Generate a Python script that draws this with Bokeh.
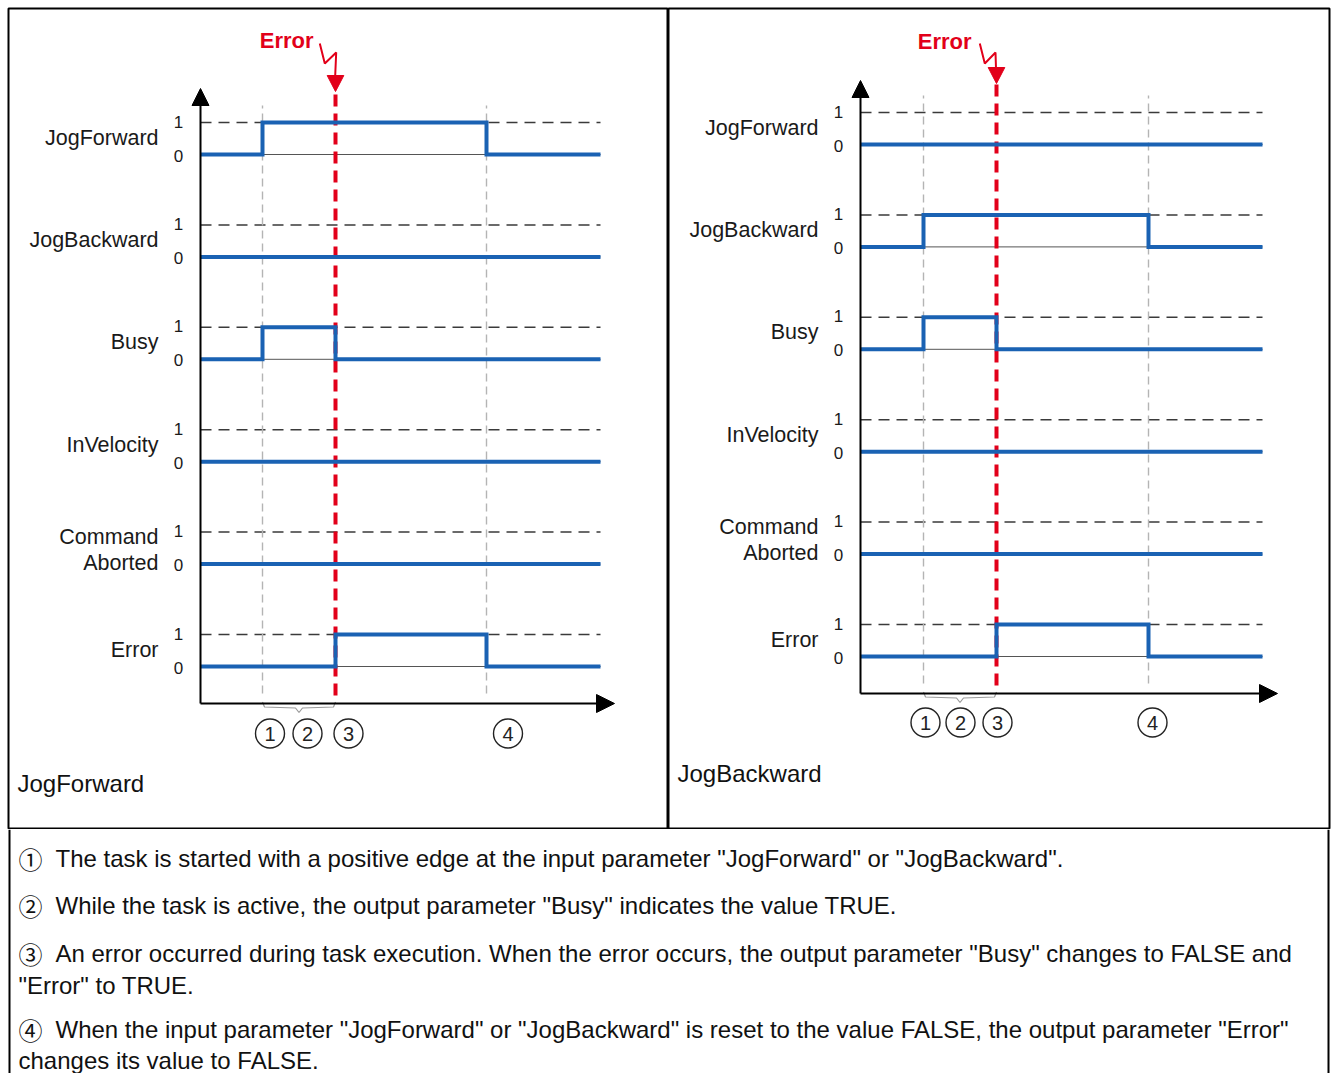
import numpy as np
from bokeh.plotting import figure
from bokeh.layouts import column, row
from bokeh.models import Range1d, Arrow, NormalHead
from bokeh.core.properties import value
from bokeh.embed import file_html
from bokeh.resources import INLINE

FONT = "Liberation Sans"
BLUE = "#1a62b3"
RED = "#e2001a"

# ---------------- data ----------------
signal_labels = [["JogForward"], ["JogBackward"], ["Busy"], ["InVelocity"],
                 ["Command", "Aborted"], ["Error"]]
level_ticks = ["1", "0"]
marker_labels = ["1", "2", "3", "4"]

# Left diagram: job started with JogForward (time in units of 10 px from the origin)
fwd_events = [6.2, 13.5, 28.6]          # (1) start, (3) error, (4) reset
fwd_end = 40.0
fwd_jogforward_t = [0, 6.2, 28.6, 40.0]
fwd_jogforward_v = [0, 1, 0, 0]
fwd_jogbackward_t = [0, 40.0]
fwd_jogbackward_v = [0, 0]
fwd_busy_t = [0, 6.2, 13.5, 40.0]
fwd_busy_v = [0, 1, 0, 0]
fwd_invelocity_t = [0, 40.0]
fwd_invelocity_v = [0, 0]
fwd_aborted_t = [0, 40.0]
fwd_aborted_v = [0, 0]
fwd_error_t = [0, 13.5, 28.6, 40.0]
fwd_error_v = [0, 1, 0, 0]

# Right diagram: job started with JogBackward
bwd_events = [6.3, 13.6, 28.8]
bwd_end = 40.2
bwd_jogforward_t = [0, 40.2]
bwd_jogforward_v = [0, 0]
bwd_jogbackward_t = [0, 6.3, 28.8, 40.2]
bwd_jogbackward_v = [0, 1, 0, 0]
bwd_busy_t = [0, 6.3, 13.6, 40.2]
bwd_busy_v = [0, 1, 0, 0]
bwd_invelocity_t = [0, 40.2]
bwd_invelocity_v = [0, 0]
bwd_aborted_t = [0, 40.2]
bwd_aborted_v = [0, 0]
bwd_error_t = [0, 13.6, 28.8, 40.2]
bwd_error_v = [0, 1, 0, 0]

note_markers = ["\u2460", "\u2461", "\u2462", "", "\u2463", ""]
notes = [
    "The task is started with a positive edge at the input parameter \"JogForward\" or \"JogBackward\".",
    "While the task is active, the output parameter \"Busy\" indicates the value TRUE.",
    "An error occurred during task execution. When the error occurs, the output parameter \"Busy\" changes to FALSE and",
    "\"Error\" to TRUE.",
    "When the input parameter \"JogForward\" or \"JogBackward\" is reset to the value FALSE, the output parameter \"Error\"",
    "changes its value to FALSE.",
]

# ---------------- layout constants ----------------
ERR_BASE = 37.0
PITCH = 102.4
AMP = 32.0
TOP_H = 829


def lane_bases():
    return [ERR_BASE + PITCH * (5 - k) for k in range(6)]


def build_panel(width, frame_w, border_left, border_right, y_bottom, y_top, series, events,
                t_end, caption, circ_x, circ_y, x_arrow, y_arrow, tip, bolt, err_x,
                err_label_y):
    p = figure(width=width, height=TOP_H,
               x_range=Range1d(-19.2, (frame_w - 192) / 10.0),
               y_range=Range1d(y_bottom, y_top),
               output_backend="svg", toolbar_location=None, min_border=0,
               min_border_left=border_left, min_border_right=border_right,
               min_border_top=8, min_border_bottom=0,
               x_axis_location=None, y_axis_location=None)
    p.grid.visible = False
    p.outline_line_color = "black"
    p.outline_line_width = 2
    p.background_fill_color = "white"
    p.border_fill_color = "white"

    bases = lane_bases()
    # dashed "1" level reference lines
    p.multi_line(xs=[[0, t_end] for _ in bases], ys=[[b + AMP, b + AMP] for b in bases],
                 line_color="#3a3a3a", line_width=1.5, line_dash="11 7")
    # thin "0" baselines
    p.multi_line(xs=[[0, t_end] for _ in bases], ys=[[b, b] for b in bases],
                 line_color="#555555", line_width=1)
    # grey event markers (1) and (4)
    t1, terr, t4 = events
    p.segment(x0=[t1, t4], y0=[10, 10], x1=[t1, t4], y1=[598, 598],
              line_color="#b4b4b4", line_width=1.4, line_dash="8 5")
    # red error marker
    p.segment(x0=[terr], y0=[8], x1=[terr], y1=[tip], line_color=RED,
              line_width=4, line_dash="12 7")

    # signals
    for (t, v), b in zip(series, bases):
        p.step(x=t, y=list(b + AMP * np.array(v, dtype=float)), mode="after",
               line_color=BLUE, line_width=4, line_join="miter")

    # axes with arrow heads
    p.add_layout(Arrow(end=NormalHead(size=17, fill_color="black", line_color="black"),
                       x_start=0, y_start=0, x_end=0, y_end=y_arrow,
                       line_color="black", line_width=2))
    p.add_layout(Arrow(end=NormalHead(size=18, fill_color="black", line_color="black"),
                       x_start=0, y_start=0, x_end=x_arrow, y_end=0,
                       line_color="black", line_width=2))

    # lane labels and 1/0 ticks
    for lines, b in zip(signal_labels, bases):
        if len(lines) == 1:
            p.text(x=[-4.2], y=[b + 17], text=lines, text_align="right",
                   text_baseline="middle", text_font=value(FONT),
                   text_font_size="21.5px", text_color="#1a1a1a")
        else:
            p.text(x=[-4.2, -4.2], y=[b + 27, b + 1], text=lines, text_align="right",
                   text_baseline="middle", text_font=value(FONT),
                   text_font_size="21.5px", text_color="#1a1a1a")
        p.text(x=[-2.2, -2.2], y=[b + AMP + 1, b - 1], text=level_ticks, text_align="center",
               text_baseline="middle", text_font=value(FONT),
               text_font_size="17px", text_color="#1a1a1a")

    # bracket between (1) and (3)
    mid = (t1 + terr) / 2.0
    p.line(x=[t1, t1 + 0.2, mid - 0.35, mid, mid + 0.35, terr - 0.2, terr],
           y=[1.5, -3.5, -4.5, -9, -4.5, -3.5, 1.5], line_color="#999999", line_width=1.2)

    # circled markers
    p.scatter(x=circ_x, y=[circ_y] * 4, marker="circle", size=29,
              fill_color="white", line_color="#222222", line_width=1.4)
    p.text(x=circ_x, y=[circ_y] * 4, text=marker_labels, text_align="center",
           text_baseline="middle", text_font=value(FONT), text_font_size="20px",
           text_color="#222222")

    # error annotation: label, lightning bolt and arrow head
    bx, by = bolt
    p.line(x=bx, y=by, line_color=RED, line_width=2)
    p.patch(x=[terr - 0.83, terr + 0.83, terr], y=[tip + 16, tip + 16, tip],
            fill_color=RED, line_color=RED)
    p.text(x=[err_x], y=[err_label_y], text=["Error"], text_align="right",
           text_baseline="middle", text_font=value(FONT), text_font_style="bold",
           text_font_size="22px", text_color=RED)

    # caption
    p.text(x=[-18.3], y=[-80], text=[caption], text_align="left",
           text_baseline="middle", text_font=value(FONT), text_font_size="24px",
           text_color="#111111")
    return p


fwd_series = [(fwd_jogforward_t, fwd_jogforward_v), (fwd_jogbackward_t, fwd_jogbackward_v),
              (fwd_busy_t, fwd_busy_v), (fwd_invelocity_t, fwd_invelocity_v),
              (fwd_aborted_t, fwd_aborted_v), (fwd_error_t, fwd_error_v)]
bwd_series = [(bwd_jogforward_t, bwd_jogforward_v), (bwd_jogbackward_t, bwd_jogbackward_v),
              (bwd_busy_t, bwd_busy_v), (bwd_invelocity_t, bwd_invelocity_v),
              (bwd_aborted_t, bwd_aborted_v), (bwd_error_t, bwd_error_v)]

left = build_panel(668, 660, 8, 0, -126, 695, fwd_series, fwd_events, fwd_end, "JogForward",
                   circ_x=[6.95, 10.7, 14.8, 30.75], circ_y=-30,
                   x_arrow=41.4, y_arrow=615, tip=612,
                   bolt=([11.93, 12.43, 13.57, 13.47], [660, 640, 651, 628]),
                   err_x=11.3, err_label_y=663)
right = build_panel(663, 661, 0, 2, -136, 685, bwd_series, bwd_events, bwd_end, "JogBackward",
                    circ_x=[6.5, 10.0, 13.7, 29.2], circ_y=-29,
                    x_arrow=41.7, y_arrow=613, tip=610,
                    bolt=([11.93, 12.43, 13.5, 13.55], [650, 630, 641, 625]),
                    err_x=11.1, err_label_y=652)

# ---------------- notes ----------------
NOTE_H = 244
NOTE_W = 1331
pb = figure(width=NOTE_W, height=NOTE_H, x_range=Range1d(0, NOTE_W), y_range=Range1d(-NOTE_H, 0),
            output_backend="svg", toolbar_location=None, min_border=0,
            x_axis_location=None, y_axis_location=None)
pb.grid.visible = False
pb.outline_line_color = None
pb.segment(x0=[9, 1328], y0=[-NOTE_H, -NOTE_H], x1=[9, 1328], y1=[0, 0],
           line_color="black", line_width=2)
note_y = [-29, -76, -124, -156, -200, -231]
note_x = [55, 55, 55, 18, 55, 18]
pb.text(x=[18] * len(note_markers), y=note_y, text=note_markers, text_align="left",
        text_baseline="middle", text_font=value("Noto Sans CJK SC"), text_font_size="24px",
        text_color="#111111")
pb.text(x=note_x, y=note_y, text=notes, text_align="left",
        text_baseline="middle", text_font=value(FONT), text_font_size="24px",
        text_color="#111111")

layout = column(row(left, right, spacing=0), pb, spacing=0)
open("out.html", "w").write(file_html(layout, INLINE))
